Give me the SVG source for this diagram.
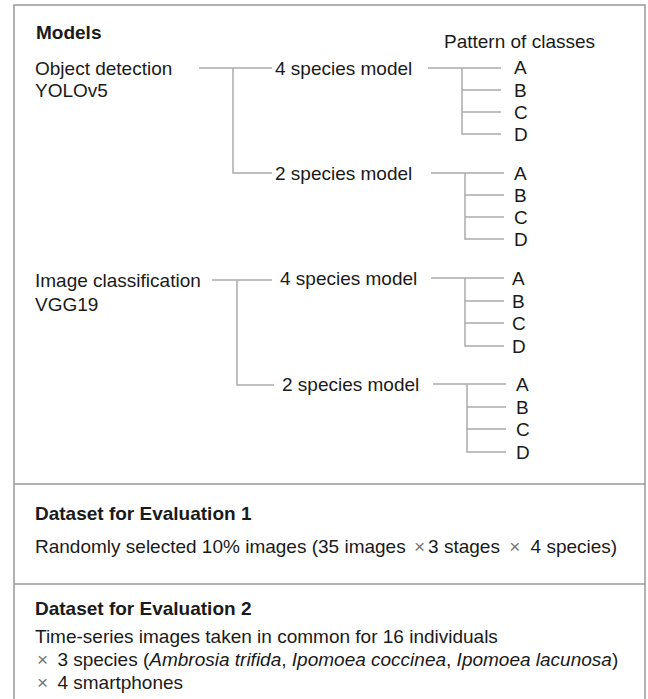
<svg xmlns="http://www.w3.org/2000/svg" width="648" height="699" viewBox="0 0 648 699">
<style>
text{font-family:"Liberation Sans",Arial,sans-serif;font-size:19px;fill:#1a1a1a}
.b{font-weight:bold}
.x{fill:#777;font-size:19px}
.ln{stroke:#aaa;stroke-width:1.5;fill:none}
.frame{stroke:#999;stroke-width:1.5;fill:#fff}
</style>
<rect width="648" height="699" fill="#fff"/>
<g id="frame">
<rect class="frame" x="14" y="5" width="631" height="710"/>
<line class="frame" x1="14" y1="484" x2="645" y2="484"/>
<line class="frame" x1="14" y1="584" x2="645" y2="584"/>
</g>
<g id="connectors">
<path class="ln" d="M199,68H272M233,68V173H272"/>
<path class="ln" d="M212,280H272M237,280V385H274"/>
<path class="ln" d="M428,68H501M462,68V134H501M462,90H501M462,112H501"/>
<path class="ln" d="M431,173H504M465,173V239H504M465,195H504M465,217H504"/>
<path class="ln" d="M431,278H504M465,278V346H504M465,301H504M465,323H504"/>
<path class="ln" d="M433,384H506M467,384V452H506M467,407H506M467,429H506"/>
</g>
<g id="models-title"><text class="b" x="36" y="39">Models</text></g>
<g id="pattern-title"><text x="444" y="48">Pattern of classes</text></g>
<g id="object-detection"><text x="35" y="75">Object detection</text><text x="35" y="97">YOLOv5</text></g>
<g id="image-classification"><text x="35" y="287">Image classification</text><text x="35" y="311">VGG19</text></g>
<g id="od-4species"><text x="275" y="75">4 species model</text></g>
<g id="od-2species"><text x="275" y="180">2 species model</text></g>
<g id="ic-4species"><text x="280" y="285">4 species model</text></g>
<g id="ic-2species"><text x="282" y="391">2 species model</text></g>
<g id="classes-1"><text x="514" y="74">A</text><text x="514" y="97">B</text><text x="514" y="119">C</text><text x="514" y="141">D</text></g>
<g id="classes-2"><text x="514" y="180">A</text><text x="514" y="202">B</text><text x="514" y="224">C</text><text x="514" y="246">D</text></g>
<g id="classes-3"><text x="512" y="285">A</text><text x="512" y="308">B</text><text x="512" y="330">C</text><text x="512" y="353">D</text></g>
<g id="classes-4"><text x="516" y="391">A</text><text x="516" y="414">B</text><text x="516" y="436">C</text><text x="516" y="459">D</text></g>
<g id="dataset-1">
<text class="b" x="35" y="520">Dataset for Evaluation 1</text>
<text x="35" y="553">Randomly selected 10% images (35 images <tspan class="x" dx="3">×</tspan><tspan dx="3">3 stages </tspan><tspan class="x" dx="4">×</tspan><tspan dx="5"> 4 species)</tspan></text>
</g>
<g id="dataset-2">
<text class="b" x="35" y="615">Dataset for Evaluation 2</text>
<text x="35" y="643">Time-series images taken in common for 16 individuals</text>
<text x="35" y="666"><tspan class="x" dx="2">×</tspan><tspan dx="4"> 3 species (</tspan><tspan font-style="italic">Ambrosia trifida</tspan>, <tspan font-style="italic">Ipomoea coccinea</tspan>, <tspan font-style="italic">Ipomoea lacunosa</tspan>)</text>
<text x="35" y="689"><tspan class="x" dx="2">×</tspan><tspan dx="4"> 4 smartphones</tspan></text>
</g>
</svg>
